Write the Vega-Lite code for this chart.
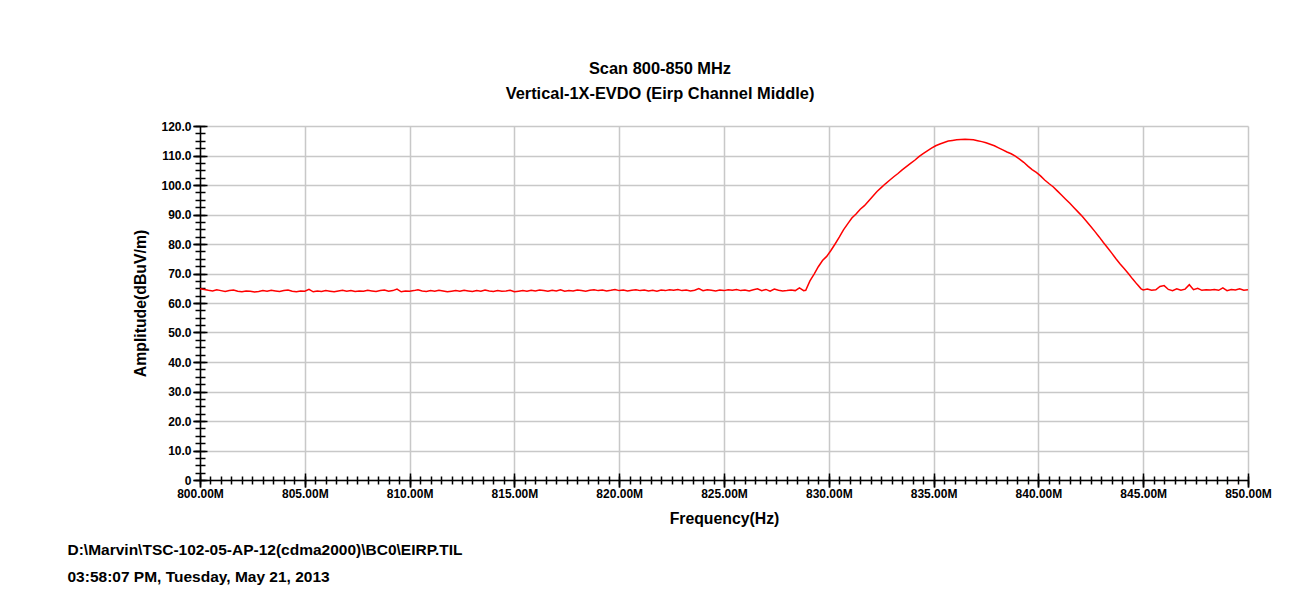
{
  "$schema": "https://vega.github.io/schema/vega-lite/v6.json",
  "width": 1048,
  "height": 354,
  "autosize": {"type": "none"},
  "padding": {"left": 200, "top": 126, "right": 64, "bottom": 113},
  "background": "white",
  "title": {
    "text": ["Scan 800-850 MHz", "Vertical-1X-EVDO (Eirp Channel Middle)"],
    "font": "Liberation Sans",
    "fontSize": 16.4,
    "fontWeight": "bold",
    "color": "#000000",
    "lineHeight": 25,
    "anchor": "middle",
    "dx": -64,
    "offset": 18
  },
  "config": {
    "view": {"stroke": null},
    "axis": {
      "labelFont": "Liberation Sans",
      "labelFontWeight": "bold",
      "labelFontSize": 12,
      "labelColor": "#000000",
      "titleFont": "Liberation Sans",
      "titleFontWeight": "bold",
      "titleFontSize": 15.8,
      "titleColor": "#000000",
      "domainColor": "#000000",
      "domainWidth": 1.5,
      "tickColor": "#000000",
      "tickWidth": 1.5,
      "labelFlush": false,
      "labelOverlap": false
    }
  },
  "data": {
    "values": [
      {"f":800.0,"a":64.8},{"f":800.2,"a":64.6},{"f":800.4,"a":64.3},{"f":800.6,"a":64.1},{"f":800.8,"a":64.5},
      {"f":801.0,"a":64.2},{"f":801.2,"a":63.9},{"f":801.4,"a":64.2},{"f":801.6,"a":64.4},{"f":801.8,"a":64.0},
      {"f":802.0,"a":63.8},{"f":802.2,"a":64.1},{"f":802.4,"a":64.0},{"f":802.6,"a":63.7},{"f":802.8,"a":63.9},
      {"f":803.0,"a":64.2},{"f":803.2,"a":64.0},{"f":803.4,"a":64.3},{"f":803.6,"a":64.1},{"f":803.8,"a":63.9},
      {"f":804.0,"a":64.2},{"f":804.2,"a":64.4},{"f":804.4,"a":64.0},{"f":804.6,"a":63.8},{"f":804.8,"a":64.1},
      {"f":805.0,"a":64.0},{"f":805.2,"a":64.6},{"f":805.4,"a":63.8},{"f":805.6,"a":64.1},{"f":805.8,"a":63.9},
      {"f":806.0,"a":64.2},{"f":806.2,"a":64.0},{"f":806.4,"a":63.8},{"f":806.6,"a":64.1},{"f":806.8,"a":64.3},
      {"f":807.0,"a":64.0},{"f":807.2,"a":64.2},{"f":807.4,"a":63.9},{"f":807.6,"a":64.1},{"f":807.8,"a":64.0},
      {"f":808.0,"a":64.3},{"f":808.2,"a":64.1},{"f":808.4,"a":63.9},{"f":808.6,"a":64.2},{"f":808.8,"a":64.4},
      {"f":809.0,"a":64.0},{"f":809.2,"a":64.2},{"f":809.4,"a":64.7},{"f":809.6,"a":63.8},{"f":809.8,"a":64.1},
      {"f":810.0,"a":64.0},{"f":810.2,"a":64.2},{"f":810.4,"a":64.5},{"f":810.6,"a":64.1},{"f":810.8,"a":63.9},
      {"f":811.0,"a":64.2},{"f":811.2,"a":64.0},{"f":811.4,"a":64.3},{"f":811.6,"a":64.1},{"f":811.8,"a":63.8},
      {"f":812.0,"a":64.0},{"f":812.2,"a":64.2},{"f":812.4,"a":64.0},{"f":812.6,"a":64.3},{"f":812.8,"a":64.1},
      {"f":813.0,"a":63.9},{"f":813.2,"a":64.2},{"f":813.4,"a":64.0},{"f":813.6,"a":64.4},{"f":813.8,"a":64.1},
      {"f":814.0,"a":63.9},{"f":814.2,"a":64.2},{"f":814.4,"a":64.0},{"f":814.6,"a":64.1},{"f":814.8,"a":64.3},
      {"f":815.0,"a":63.8},{"f":815.2,"a":64.0},{"f":815.4,"a":64.2},{"f":815.6,"a":64.0},{"f":815.8,"a":64.3},
      {"f":816.0,"a":64.1},{"f":816.2,"a":64.4},{"f":816.4,"a":64.2},{"f":816.6,"a":64.0},{"f":816.8,"a":64.3},
      {"f":817.0,"a":64.1},{"f":817.2,"a":64.5},{"f":817.4,"a":64.0},{"f":817.6,"a":64.2},{"f":817.8,"a":64.1},
      {"f":818.0,"a":64.4},{"f":818.2,"a":64.2},{"f":818.4,"a":64.0},{"f":818.6,"a":64.3},{"f":818.8,"a":64.5},
      {"f":819.0,"a":64.2},{"f":819.2,"a":64.4},{"f":819.4,"a":64.1},{"f":819.6,"a":64.3},{"f":819.8,"a":64.6},
      {"f":820.0,"a":64.2},{"f":820.2,"a":64.4},{"f":820.4,"a":64.1},{"f":820.6,"a":64.3},{"f":820.8,"a":64.5},
      {"f":821.0,"a":64.2},{"f":821.2,"a":64.4},{"f":821.4,"a":64.1},{"f":821.6,"a":64.3},{"f":821.8,"a":64.0},
      {"f":822.0,"a":64.4},{"f":822.2,"a":64.2},{"f":822.4,"a":64.5},{"f":822.6,"a":64.3},{"f":822.8,"a":64.6},
      {"f":823.0,"a":64.2},{"f":823.2,"a":64.4},{"f":823.4,"a":64.1},{"f":823.6,"a":64.3},{"f":823.8,"a":64.9},
      {"f":824.0,"a":64.2},{"f":824.2,"a":64.5},{"f":824.4,"a":64.3},{"f":824.6,"a":64.1},{"f":824.8,"a":64.4},
      {"f":825.0,"a":64.2},{"f":825.2,"a":64.5},{"f":825.4,"a":64.3},{"f":825.6,"a":64.6},{"f":825.8,"a":64.2},
      {"f":826.0,"a":64.4},{"f":826.2,"a":64.1},{"f":826.4,"a":64.5},{"f":826.6,"a":64.8},{"f":826.8,"a":64.2},
      {"f":827.0,"a":64.6},{"f":827.2,"a":64.0},{"f":827.4,"a":64.7},{"f":827.6,"a":64.3},{"f":827.8,"a":64.1},
      {"f":828.0,"a":64.2},{"f":828.2,"a":64.4},{"f":828.4,"a":64.2},{"f":828.6,"a":65.1},{"f":828.8,"a":64.2},
      {"f":828.9,"a":64.3},{"f":829.1,"a":67.5},{"f":829.3,"a":69.8},{"f":829.5,"a":72.3},{"f":829.7,"a":74.4},
      {"f":829.9,"a":75.8},{"f":830.1,"a":77.8},{"f":830.3,"a":80.0},{"f":830.5,"a":82.3},{"f":830.7,"a":84.8},
      {"f":830.9,"a":86.8},{"f":831.1,"a":88.8},{"f":831.3,"a":90.2},{"f":831.5,"a":91.8},{"f":831.7,"a":93.0},
      {"f":831.9,"a":94.6},{"f":832.1,"a":96.2},{"f":832.3,"a":97.8},{"f":832.5,"a":99.1},{"f":832.7,"a":100.4},
      {"f":832.9,"a":101.6},{"f":833.1,"a":102.8},{"f":833.3,"a":103.9},{"f":833.5,"a":105.1},{"f":833.7,"a":106.2},
      {"f":833.9,"a":107.3},{"f":834.1,"a":108.4},{"f":834.3,"a":109.6},{"f":834.5,"a":110.6},{"f":834.7,"a":111.6},
      {"f":834.9,"a":112.5},{"f":835.1,"a":113.3},{"f":835.3,"a":113.9},{"f":835.5,"a":114.4},{"f":835.7,"a":114.9},
      {"f":835.9,"a":115.1},{"f":836.1,"a":115.3},{"f":836.3,"a":115.4},{"f":836.5,"a":115.5},{"f":836.7,"a":115.4},
      {"f":836.9,"a":115.3},{"f":837.1,"a":115.0},{"f":837.3,"a":114.7},{"f":837.5,"a":114.3},{"f":837.7,"a":113.8},
      {"f":837.9,"a":113.3},{"f":838.1,"a":112.6},{"f":838.3,"a":111.9},{"f":838.5,"a":111.2},{"f":838.7,"a":110.6},
      {"f":838.9,"a":109.8},{"f":839.1,"a":108.8},{"f":839.3,"a":107.7},{"f":839.5,"a":106.4},{"f":839.7,"a":105.2},
      {"f":839.9,"a":104.3},{"f":840.1,"a":103.1},{"f":840.3,"a":101.7},{"f":840.5,"a":100.5},{"f":840.7,"a":99.4},
      {"f":840.9,"a":98.0},{"f":841.1,"a":96.6},{"f":841.3,"a":95.2},{"f":841.5,"a":93.8},{"f":841.7,"a":92.3},
      {"f":841.9,"a":90.8},{"f":842.1,"a":89.3},{"f":842.3,"a":87.6},{"f":842.5,"a":85.9},{"f":842.7,"a":84.2},
      {"f":842.9,"a":82.4},{"f":843.1,"a":80.5},{"f":843.3,"a":78.7},{"f":843.5,"a":76.9},{"f":843.7,"a":75.0},
      {"f":843.9,"a":73.2},{"f":844.1,"a":71.6},{"f":844.3,"a":69.9},{"f":844.5,"a":68.1},{"f":844.7,"a":66.4},
      {"f":844.9,"a":64.8},{"f":845.0,"a":64.4},
      {"f":845.2,"a":64.7},{"f":845.4,"a":64.3},{"f":845.6,"a":64.5},{"f":845.8,"a":65.6},{"f":846.0,"a":65.9},
      {"f":846.2,"a":64.6},{"f":846.4,"a":64.2},{"f":846.6,"a":64.8},{"f":846.8,"a":64.3},{"f":847.0,"a":64.7},
      {"f":847.2,"a":66.2},{"f":847.4,"a":64.5},{"f":847.6,"a":65.0},{"f":847.8,"a":64.3},{"f":848.0,"a":64.5},
      {"f":848.2,"a":64.4},{"f":848.4,"a":64.6},{"f":848.6,"a":64.3},{"f":848.8,"a":65.1},{"f":849.0,"a":64.2},
      {"f":849.2,"a":64.6},{"f":849.4,"a":64.4},{"f":849.6,"a":64.8},{"f":849.8,"a":64.3},{"f":850.0,"a":64.5}
    ]
  },
  "resolve": {"axis": {"x": "independent", "y": "independent"}},
  "layer": [
    {
      "mark": {"type": "line", "color": "#ff0000", "strokeWidth": 1.5, "clip": true},
      "encoding": {
        "x": {
          "field": "f", "type": "quantitative",
          "scale": {"domain": [800, 850], "nice": false, "zero": false},
          "axis": {
            "orient": "bottom",
            "values": [800, 805, 810, 815, 820, 825, 830, 835, 840, 845, 850],
            "labelExpr": "format(datum.value, '.2f') + 'M'",
            "title": "Frequency(Hz)",
            "grid": true, "gridColor": "#c8c8c8", "gridWidth": 1.5,
            "tickSize": 7, "labelPadding": 1, "titlePadding": 12
          }
        },
        "y": {
          "field": "a", "type": "quantitative",
          "scale": {"domain": [0, 120], "nice": false, "zero": false},
          "axis": {
            "orient": "left",
            "values": [0, 10, 20, 30, 40, 50, 60, 70, 80, 90, 100, 110, 120],
            "labelExpr": "datum.value == 0 ? '0' : format(datum.value, '.1f')",
            "title": "Amplitude(dBuV/m)",
            "grid": true, "gridColor": "#c8c8c8", "gridWidth": 1.5,
            "tickSize": 7, "labelPadding": 2, "titlePadding": 12
          }
        }
      }
    },
    {
      "mark": {"type": "line", "opacity": 0},
      "encoding": {
        "x": {
          "field": "f", "type": "quantitative",
          "scale": {"domain": [800, 850], "nice": false, "zero": false},
          "axis": {
            "orient": "bottom",
            "values": [800, 805, 810, 815, 820, 825, 830, 835, 840, 845, 850],
            "labels": false, "domain": false, "grid": false,
            "offset": -7, "tickSize": 14,
            "title": ["D:\\Marvin\\TSC-102-05-AP-12(cdma2000)\\BC0\\EIRP.TIL", "03:58:07 PM, Tuesday, May 21, 2013"],
            "titleFontSize": 15.5,
            "titleLineHeight": 27,
            "titleAlign": "left",
            "titleBaseline": "top",
            "titleX": -133,
            "titleY": 69
          }
        },
        "y": {
          "field": "a", "type": "quantitative",
          "scale": {"domain": [0, 120], "nice": false, "zero": false},
          "axis": {
            "orient": "left",
            "values": [0, 10, 20, 30, 40, 50, 60, 70, 80, 90, 100, 110, 120],
            "labels": false, "domain": false, "grid": false,
            "offset": -7, "tickSize": 14, "title": null
          }
        }
      }
    },
    {
      "mark": {"type": "line", "opacity": 0},
      "encoding": {
        "x": {
          "field": "f", "type": "quantitative",
          "scale": {"domain": [800, 850], "nice": false, "zero": false},
          "axis": {
            "orient": "bottom",
            "values": [800,800.5,801,801.5,802,802.5,803,803.5,804,804.5,805,805.5,806,806.5,807,807.5,808,808.5,809,809.5,810,810.5,811,811.5,812,812.5,813,813.5,814,814.5,815,815.5,816,816.5,817,817.5,818,818.5,819,819.5,820,820.5,821,821.5,822,822.5,823,823.5,824,824.5,825,825.5,826,826.5,827,827.5,828,828.5,829,829.5,830,830.5,831,831.5,832,832.5,833,833.5,834,834.5,835,835.5,836,836.5,837,837.5,838,838.5,839,839.5,840,840.5,841,841.5,842,842.5,843,843.5,844,844.5,845,845.5,846,846.5,847,847.5,848,848.5,849,849.5,850],
            "labels": false, "domain": false, "grid": false,
            "offset": -4, "tickSize": 8, "title": null
          }
        },
        "y": {
          "field": "a", "type": "quantitative",
          "scale": {"domain": [0, 120], "nice": false, "zero": false},
          "axis": {
            "orient": "left",
            "values": [0,2.5,5,7.5,10,12.5,15,17.5,20,22.5,25,27.5,30,32.5,35,37.5,40,42.5,45,47.5,50,52.5,55,57.5,60,62.5,65,67.5,70,72.5,75,77.5,80,82.5,85,87.5,90,92.5,95,97.5,100,102.5,105,107.5,110,112.5,115,117.5,120],
            "labels": false, "domain": false, "grid": false,
            "offset": -5, "tickSize": 10, "title": null
          }
        }
      }
    }
  ]
}
